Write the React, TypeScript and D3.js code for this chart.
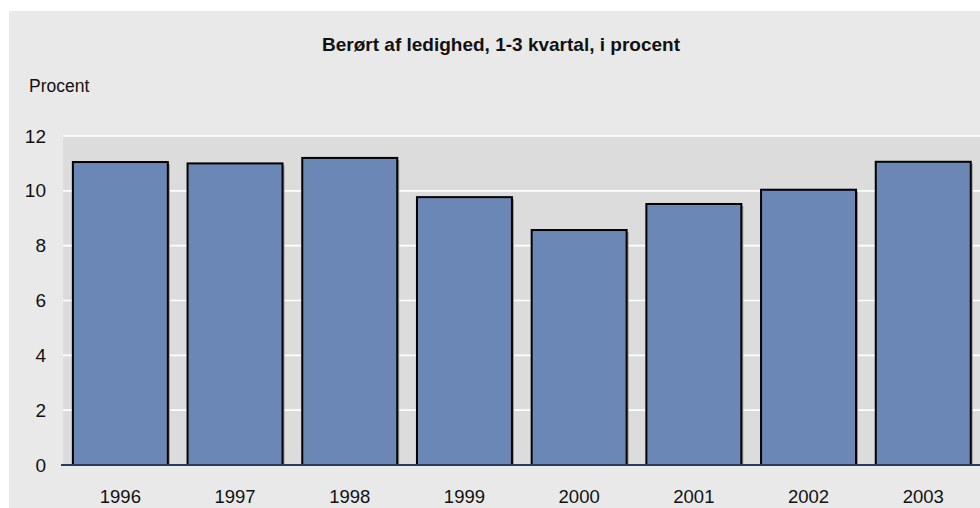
import * as d3 from "d3";
import React from "react";

// data
const years = ["1996", "1997", "1998", "1999", "2000", "2001", "2002", "2003"];
const values = [11.05, 11.0, 11.2, 9.77, 8.57, 9.52, 10.04, 11.06];
const yTicks = [0, 2, 4, 6, 8, 10, 12];

const title = "Berørt af ledighed, 1-3 kvartal, i procent";
const yLabel = "Procent";

const W = 980;
const H = 508;
const font = "'Liberation Sans', Arial, sans-serif";

const App = () => {
  const left = 63;
  const top = 136;
  const bottom = 465;
  const step = 114.7;

  const x = d3
    .scaleBand()
    .domain(years)
    .range([left, left + step * years.length])
    .paddingInner(0.172)
    .paddingOuter(0.086);

  const y = d3.scaleLinear().domain([0, 12]).range([bottom, top]);

  return (
    <svg
      width={W}
      height={H}
      style={{ position: "absolute", left: 0, top: 0 }}
      fontFamily={font}
    >
      <rect x={0} y={0} width={W} height={H} fill="#ffffff" />
      <rect x={9} y={11} width={W - 9} height={H - 11} fill="#e9e9e9" />

      <text x={501} y={51} textAnchor="middle" fontWeight="bold" fontSize={19} fill="#111">
        {title}
      </text>
      <text x={29} y={92} fontSize={17.5} fill="#111">
        {yLabel}
      </text>

      {/* plot area */}
      <rect x={left} y={y(12)} width={W - left} height={bottom - y(12)} fill="#dcdcdc" />
      {yTicks.map((t) => (
        <g key={t}>
          {t > 0 && (
            <line x1={left} x2={W} y1={y(t)} y2={y(t)} stroke="#ffffff" strokeWidth={1.6} />
          )}
          <text x={46} y={y(t)} dy="0.35em" textAnchor="end" fontSize={19} fill="#111">
            {t}
          </text>
        </g>
      ))}

      {/* bars */}
      {years.map((yr, i) => (
        <g key={yr}>
          <rect
            x={x(yr)! + 2}
            y={y(values[i]) + 2}
            width={x.bandwidth()}
            height={bottom - y(values[i]) - 2}
            fill="#9a9a9a"
          />
          <rect
            x={x(yr)!}
            y={y(values[i])}
            width={x.bandwidth()}
            height={bottom - y(values[i])}
            fill="#6b87b5"
            stroke="#000"
            strokeWidth={2}
          />
          <text
            x={x(yr)! + x.bandwidth() / 2}
            y={503}
            textAnchor="middle"
            fontSize={18.5}
            fill="#111"
          >
            {yr}
          </text>
        </g>
      ))}

      <line x1={61} x2={W} y1={bottom} y2={bottom} stroke="#2b3b5b" strokeWidth={2} />
    </svg>
  );
};

export default App;
